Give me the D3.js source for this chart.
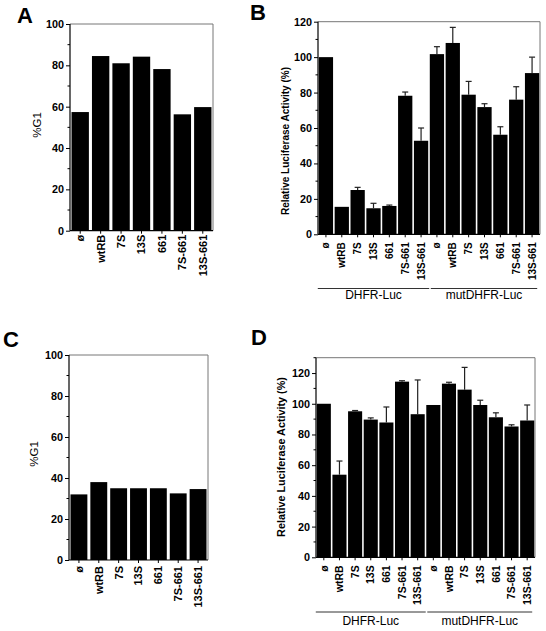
<!DOCTYPE html>
<html>
<head>
<meta charset="utf-8">
<script src="https://cdn.jsdelivr.net/npm/d3@7"></script>
<style>
  html, body { margin: 0; padding: 0; background: #fff; }
  svg { display: block; font-family: "Liberation Sans", Arial, Helvetica, sans-serif; }
</style>
</head>
<body>
<svg id="chart" width="546" height="631"></svg>
<script>
// ---------- data ----------
const catsA = ["ø", "wtRB", "7S", "13S", "661", "7S-661", "13S-661"];
const valuesA = [57.4, 84.5, 81, 84.2, 78.2, 56.3, 59.8];
const valuesC = [32, 38, 35, 35, 35, 32.5, 34.6];

const catsB = ["ø", "wtRB", "7S", "13S", "661", "7S-661", "13S-661",
               "ø", "wtRB", "7S", "13S", "661", "7S-661", "13S-661"];
const valuesB = [100, 15.5, 25, 14.7, 16, 78.2, 52.8, 101.7, 108, 78.8, 71.8, 56.2, 76, 91];
const errB    = [0, 0, 1.5, 2.8, 0.5, 2.1, 7.2, 4.2, 8.8, 7.5, 1.9, 4.5, 7.3, 9];

const valuesD = [100, 53.8, 95.1, 89.7, 87.8, 114.4, 93.2, 99.2, 113.1, 109.2, 99.2, 91.2, 85.2, 89.1];
const errD    = [0, 8.9, 0.5, 1.1, 10.1, 0.6, 22.3, 0, 0.9, 14.5, 3.1, 2.9, 1.1, 10.1];

const groups = ["DHFR-Luc", "mutDHFR-Luc"];
const ticksG1 = [0, 20, 40, 60, 80, 100];
const ticksLuc = [0, 20, 40, 60, 80, 100, 120];

const svg = d3.select("#chart");

function panel(o) {
  const g = svg.append("g");
  const keys = o.cats.map((c, i) => i);
  const x = d3.scaleBand().domain(keys).range([o.left, o.right]).paddingInner(o.pad).paddingOuter(o.pad / 2);
  const y = d3.scaleLinear().domain([0, o.ymax]).range([o.bottom, o.top]);

  // frame top/right
  g.append("path")
    .attr("d", `M${o.left},${y(o.ymax)}H${o.right}V${o.bottom}`)
    .attr("fill", "none").attr("stroke", "#777").attr("stroke-width", 1);

  // bars
  g.selectAll("rect.bar").data(o.values).join("rect")
    .attr("x", (d, i) => x(i)).attr("width", x.bandwidth())
    .attr("y", d => y(d)).attr("height", d => y(0) - y(d))
    .attr("fill", "#000");

  // error bars
  if (o.errs) {
    o.values.forEach((v, i) => {
      const e = o.errs[i];
      if (!e) return;
      const cx = x(i) + x.bandwidth() / 2;
      g.append("line").attr("x1", cx).attr("x2", cx).attr("y1", y(v)).attr("y2", y(v + e))
        .attr("stroke", "#222").attr("stroke-width", 1.2);
      g.append("line").attr("x1", cx - 3).attr("x2", cx + 3).attr("y1", y(v + e)).attr("y2", y(v + e))
        .attr("stroke", "#222").attr("stroke-width", 1.2);
    });
  }

  // minor ticks on y axis
  const minor = d3.range(0, o.ymax + 0.01, 10).filter(t => !o.ticks.includes(t));
  g.selectAll("line.minor").data(minor).join("line")
    .attr("x1", o.left - 2.5).attr("x2", o.left).attr("y1", d => y(d)).attr("y2", d => y(d))
    .attr("stroke", "#000").attr("stroke-width", 1);

  // y axis
  const ya = g.append("g").attr("transform", `translate(${o.left},0)`)
    .call(d3.axisLeft(y).tickValues(o.ticks).tickSize(4).tickPadding(2).tickSizeOuter(0));
  ya.select(".domain").attr("stroke", "#000").attr("stroke-width", 1.2);
  ya.selectAll("line").attr("stroke", "#000");
  ya.selectAll("text").attr("font-size", o.tickFs).attr("font-weight", "bold")
    .attr("font-family", "Liberation Sans, Arial, sans-serif").attr("fill", "#000");
  ya.selectAll("path.domain").attr("d", `M0,${y(o.ymax)}V${o.bottom}`);

  // x axis line + ticks
  g.append("line").attr("x1", o.left).attr("x2", o.right).attr("y1", o.bottom).attr("y2", o.bottom)
    .attr("stroke", "#000").attr("stroke-width", 1.2);
  g.selectAll("line.xt").data(keys).join("line")
    .attr("x1", d => x(d) + x.bandwidth() / 2).attr("x2", d => x(d) + x.bandwidth() / 2)
    .attr("y1", o.bottom).attr("y2", o.bottom + 3)
    .attr("stroke", "#000").attr("stroke-width", 1);

  // category labels
  g.selectAll("text.cat").data(o.cats).join("text")
    .attr("transform", (d, i) => `translate(${x(i) + x.bandwidth() / 2},${o.bottom + o.catOff}) rotate(-90)`)
    .attr("text-anchor", "end").attr("dy", "0.35em")
    .attr("font-size", o.catFs).attr("font-weight", "bold").text(d => d);

  // y title
  g.append("text")
    .attr("transform", `translate(${o.titleX},${o.titleY}) rotate(-90)`)
    .attr("text-anchor", "middle").attr("font-size", o.titleFs).attr("font-weight", o.titleW)
    .text(o.title);

  // panel letter
  g.append("text").attr("x", o.letterX).attr("y", o.letterY)
    .attr("font-size", 22).attr("font-weight", "bold").text(o.letter);

  // group labels
  if (o.groups) {
    const half = o.cats.length / 2;
    o.groups.forEach((name, gi) => {
      const x0 = x(gi * half) - (gi === 0 ? 1 : -1);
      const x1 = x(gi * half + half - 1) + x.bandwidth() + (gi === 0 ? 1 : -2);
      g.append("line").attr("x1", x0).attr("x2", x1).attr("y1", o.groupLineY).attr("y2", o.groupLineY)
        .attr("stroke", "#333").attr("stroke-width", 1);
      g.append("text").attr("x", (x0 + x1) / 2).attr("y", o.groupTextY)
        .attr("text-anchor", "middle").attr("font-size", o.groupFs).text(name);
    });
  }
}

panel({ letter: "A", letterX: 17, letterY: 23, cats: catsA, values: valuesA, ymax: 100, ticks: ticksG1,
  left: 70, right: 213, top: 24, bottom: 230.7, pad: 0.15, tickFs: 10.8, catFs: 11, catOff: 4,
  title: "%G1", titleX: 41, titleY: 125, titleFs: 11.5, titleW: "normal" });

panel({ letter: "B", letterX: 250, letterY: 20, cats: catsB, values: valuesB, errs: errB, ymax: 120, ticks: ticksLuc,
  left: 318, right: 540, top: 21.7, bottom: 234.3, pad: 0.1, tickFs: 10.8, catFs: 10, catOff: 8,
  title: "Relative Luciferase Activity (%)", titleX: 289, titleY: 141, titleFs: 10, titleW: "bold",
  groups: groups, groupLineY: 288.5, groupTextY: 299, groupFs: 12 });

panel({ letter: "C", letterX: 3, letterY: 347, cats: catsA, values: valuesC, ymax: 100, ticks: ticksG1,
  left: 69, right: 208, top: 355, bottom: 560, pad: 0.15, tickFs: 10.8, catFs: 11, catOff: 6,
  title: "%G1", titleX: 38, titleY: 454, titleFs: 11.5, titleW: "normal" });

panel({ letter: "D", letterX: 251, letterY: 345, cats: catsB, values: valuesD, errs: errD, ymax: 130, ticks: ticksLuc,
  left: 316, right: 535, top: 357.7, bottom: 557.3, pad: 0.1, tickFs: 10.8, catFs: 10.5, catOff: 8,
  title: "Relative Luciferase Activity (%)", titleX: 285, titleY: 457, titleFs: 10.8, titleW: "bold",
  groups: groups, groupLineY: 612, groupTextY: 625, groupFs: 12 });
</script>
</body>
</html>
